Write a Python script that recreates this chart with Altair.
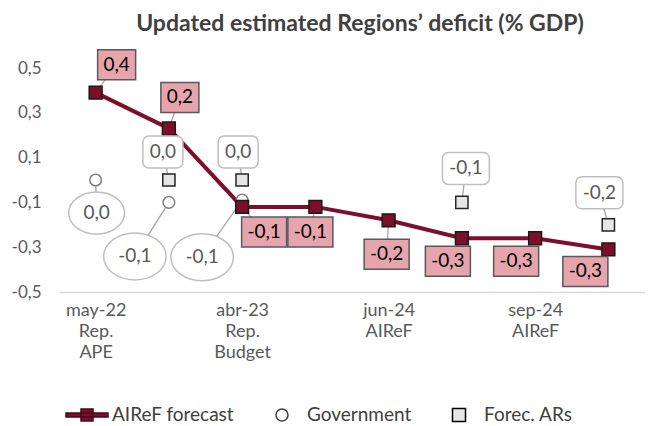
import json
import altair as alt
import pandas as pd

# ---------------- data ----------------
x_tick_pos = [1, 3, 5, 7]
x_tick_labels = [["may-22", "Rep.", "APE"], ["abr-23", "Rep.", "Budget"],
                 ["jun-24", "AIReF"], ["sep-24", "AIReF"]]

aireff_idx = [1, 2, 3, 4, 5, 6, 7, 8]
aireff_val = [0.39, 0.23, -0.12, -0.12, -0.18, -0.26, -0.26, -0.31]

gov_idx = [1, 2, 3]
gov_val = [0.0, -0.10, -0.09]

ars_idx = [2, 3, 6, 8]
ars_val = [0.0, 0.0, -0.10, -0.20]

legend_names = ["AIReF forecast", "Government", "Forec. ARs"]

# label placement (pixel offsets from the point, screen direction)
aireff_dx = [21, 11, 22, -5, -2, -14, -19, -23]
aireff_dy = [-28, -31, 25, 25, 34, 23, 23, 22]
gov_dx = [1, -34, -40]
gov_dy = [33, 54, 57]
ars_dx = [-6, -4, 4, -9]
ars_dy = [-28, -28, -34, -32]

# ---------------- layout ----------------
W, H = 586, 224
XU = 8 / W
YU = 1 / H
MAROON = "#7d0f2c"
FONT = "Lato"

aireff_df = pd.DataFrame({"idx": aireff_idx, "value": aireff_val, "dx": aireff_dx, "dy": aireff_dy})
gov_df = pd.DataFrame({"idx": gov_idx, "value": gov_val, "dx": gov_dx, "dy": gov_dy})
ars_df = pd.DataFrame({"idx": ars_idx, "value": ars_val, "dx": ars_dx, "dy": ars_dy})

LAB = "(datum.value < -0.00001 ? '-' : '') + replace(format(abs(datum.value), '.1f'), '.', ',')"

xscale = alt.Scale(domain=[0.5, 8.5], nice=False, zero=False)
yscale = alt.Scale(domain=[-0.5, 0.5], nice=False, zero=False)

xaxis = alt.Axis(
    values=x_tick_pos,
    labelExpr=f"{json.dumps(x_tick_labels)}[(datum.value - 1) / 2]",
    grid=False, ticks=False, domainColor="#d9d9d9", domainWidth=1.5,
    labelFont=FONT, labelFontSize=18, labelColor="#595959", labelPadding=9,
    labelLineHeight=21, labelBaseline="top", labelFlush=False, title=None,
)
yaxis = alt.Axis(
    values=[-0.5, -0.3, -0.1, 0.1, 0.3, 0.5],
    labelExpr="(datum.value < 0 ? '-' : '') + replace(format(abs(datum.value), '.1f'), '.', ',')",
    grid=False, ticks=False, domain=False,
    labelFont=FONT, labelFontSize=17, labelColor="#595959", labelPadding=18, title=None,
)


def prep(df, bw3, bw4, bh):
    return (
        alt.Chart(df)
        .transform_calculate(lab=LAB)
        .transform_calculate(lx=f"datum.idx + datum.dx * {XU}")
        .transform_calculate(ly=f"datum.value - datum.dy * {YU}")
        .transform_calculate(bw=f"length(datum.lab) > 3 ? {bw4} : {bw3}")
        .transform_calculate(bx1=f"datum.lx - datum.bw / 2 * {XU}")
        .transform_calculate(bx2=f"datum.lx + datum.bw / 2 * {XU}")
        .transform_calculate(by1=f"datum.ly - {bh} / 2 * {YU}")
        .transform_calculate(by2=f"datum.ly + {bh} / 2 * {YU}")
        .transform_calculate(esz=f"length(datum.lab) > 3 ? {47*47} : {42*42}")
    )


A = prep(aireff_df, 38, 45, 30)
G = prep(gov_df, 40, 47, 32)
R = prep(ars_df, 40, 47, 32)

PX = alt.X("idx:Q", scale=xscale, axis=xaxis)
PY = alt.Y("value:Q", scale=yscale, axis=yaxis)
LX = alt.X("lx:Q", scale=xscale, axis=xaxis)
LY = alt.Y("ly:Q", scale=yscale, axis=yaxis)


def leader(base):
    return base.mark_rule(color="#a6a6a6", strokeWidth=1.3).encode(
        x=PX, y=PY, x2="lx:Q", y2="ly:Q")


layers = [
    leader(A), leader(G), leader(R),
    A.mark_line(color=MAROON, strokeWidth=4).encode(x=PX, y=PY),
    G.mark_point(shape="circle", filled=True, fill="white", stroke="#7f7f7f",
                 strokeWidth=1.5, size=135, opacity=1).encode(x=PX, y=PY),
    R.mark_point(shape="square", filled=True, fill="#e6e6e6", stroke="#262626",
                 strokeWidth=1.5, size=150, opacity=1).encode(x=PX, y=PY),
    A.mark_point(shape="square", filled=True, fill=MAROON, stroke="#1a1a1a",
                 strokeWidth=1.5, size=165, opacity=1).encode(x=PX, y=PY),
    A.mark_rect(fill="#e6a5ad", stroke="#595959", strokeWidth=1.5).encode(
        x=alt.X("bx1:Q", scale=xscale, axis=xaxis), x2="bx2:Q",
        y=alt.Y("by1:Q", scale=yscale, axis=yaxis), y2="by2:Q"),
    R.mark_rect(fill="white", stroke="#bfbfbf", strokeWidth=1.5, cornerRadius=6).encode(
        x=alt.X("bx1:Q", scale=xscale, axis=xaxis), x2="bx2:Q",
        y=alt.Y("by1:Q", scale=yscale, axis=yaxis), y2="by2:Q"),
    G.mark_point(shape="M-1.33,0A1.33,1 0 1,0 1.33,0A1.33,1 0 1,0 -1.33,0Z",
                 filled=True, fill="white", stroke="#bfbfbf", strokeWidth=1.5,
                 opacity=1).encode(x=LX, y=LY, size=alt.Size("esz:Q", scale=None)),
    A.mark_text(font=FONT, fontSize=19, color="#000000", baseline="middle",
                align="center").encode(x=LX, y=LY, text="lab:N"),
    R.mark_text(font=FONT, fontSize=19, color="#595959", baseline="middle",
                align="center").encode(x=LX, y=LY, text="lab:N"),
    G.mark_text(font=FONT, fontSize=19, color="#595959", baseline="middle",
                align="center").encode(x=LX, y=LY, text="lab:N"),
]

# legend-only layer
leg_shapes = [
    "M-2.1,-0.2L2.1,-0.2L2.1,0.2L-2.1,0.2ZM-0.6,-0.6L0.6,-0.6L0.6,0.6L-0.6,0.6Z",
    "M-0.6,0A0.6,0.6 0 1,0 0.6,0A0.6,0.6 0 1,0 -0.6,0Z",
    "M-0.65,-0.65L0.65,-0.65L0.65,0.65L-0.65,0.65Z",
]
leg = alt.Legend(
    title=None, orient="none", direction="horizontal", legendX=17, legendY=336,
    symbolSize=400, symbolStrokeWidth=1.5, labelFont=FONT, labelFontSize=19,
    labelColor="#404040", labelOffset=14, columnPadding=36, padding=0,
)
legend_layer = alt.Chart(pd.DataFrame({"series": legend_names})).transform_filter(
    "false").mark_point(filled=True, opacity=1).encode(
    x=PX, y=PY,
    shape=alt.Shape("series:N", scale=alt.Scale(domain=legend_names, range=leg_shapes), legend=leg),
    fill=alt.Fill("series:N", scale=alt.Scale(domain=legend_names, range=[MAROON, "white", "#e6e6e6"]), legend=leg),
    stroke=alt.Stroke("series:N", scale=alt.Scale(domain=legend_names, range=["#4a0718", "#404040", "#000000"]), legend=leg),
)
layers.append(legend_layer)

chart = alt.layer(*layers).properties(
    width=W, height=H,
    title=alt.TitleParams("Updated estimated Regions’ deficit (% GDP)", font=FONT,
                          fontSize=23, fontWeight="bold", color="#404040",
                          anchor="middle", offset=13, dx=8),
    autosize=alt.AutoSizeParams(type="none"),
    padding={"left": 51, "top": 60, "right": 0, "bottom": 134},
).configure_view(stroke=None)

chart.save("out.html", embed_options={"renderer": "svg", "actions": False})
